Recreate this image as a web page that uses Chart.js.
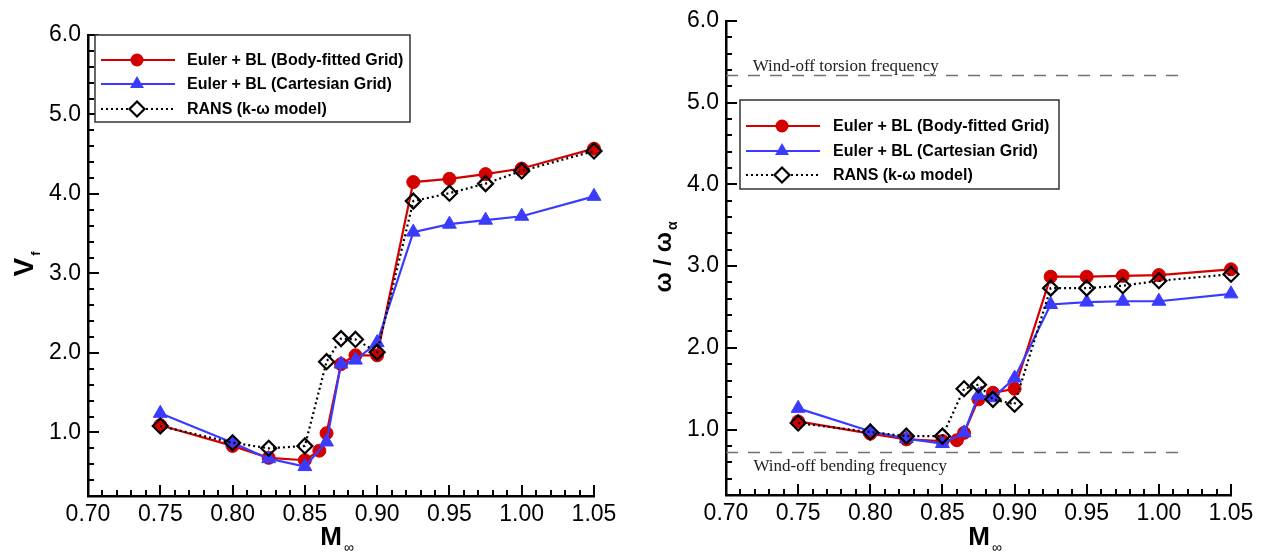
<!DOCTYPE html>
<html>
<head>
<meta charset="utf-8">
<script src="https://cdn.jsdelivr.net/npm/chart.js@4.4.0/dist/chart.umd.min.js"></script>
<style>
  html, body { margin: 0; padding: 0; background: #fff; }
  .panel { position: absolute; top: 0; height: 554px; }
  #leftWrap { left: 0; width: 630px; }
  #rightWrap { left: 630px; width: 632px; }
</style>
</head>
<body>
<div class="panel" id="leftWrap"><canvas id="flutterSpeed"></canvas></div>
<div class="panel" id="rightWrap"><canvas id="flutterFreq"></canvas></div>
<script>
// Mach numbers (shared x values)
const machNumbers = [0.75, 0.80, 0.825, 0.85, 0.86, 0.865, 0.875, 0.885, 0.90, 0.925, 0.95, 0.975, 1.00, 1.05];

// Left panel: flutter speed index V_f
const vfBodyFitted = [1.09, 0.83, 0.68, 0.65, 0.77, 0.99, 1.86, 1.97, 1.97, 4.15, 4.19, 4.25, 4.32, 4.57];
const vfCartesian  = [1.24, 0.87, 0.67, 0.57, null, 0.88, 1.86, 1.91, 2.13, 3.52, 3.62, 3.67, 3.72, 3.97];
const vfRans       = [1.08, 0.87, 0.80, 0.83, null, 1.89, 2.18, 2.17, 2.01, 3.91, 4.01, 4.13, 4.29, 4.54];

// Right panel: flutter frequency ratio omega / omega_alpha
const freqBodyFitted = [1.10, 0.95, 0.88, 0.86, 0.87, 0.96, 1.37, 1.45, 1.50, 2.87, 2.87, 2.88, 2.89, 2.96];
const freqCartesian  = [1.26, 0.98, 0.89, 0.83, null, 0.96, 1.42, 1.39, 1.63, 2.53, 2.56, 2.57, 2.57, 2.66];
const freqRans       = [1.08, 0.97, 0.92, 0.92, null, 1.50, 1.55, 1.37, 1.31, 2.73, 2.73, 2.76, 2.82, 2.90];

// Wind-off reference frequencies
const torsionFreq = 5.33;
const bendingFreq = 0.72;
const refLineMach = [0.70, 1.017];

// Series names
const seriesNames = ['Euler + BL (Body-fitted Grid)', 'Euler + BL (Cartesian Grid)', 'RANS (k-\u03c9 model)'];

// Axis ticks
const xTickValues = [0.70, 0.75, 0.80, 0.85, 0.90, 0.95, 1.00, 1.05];
const xTickLabels = ['0.70', '0.75', '0.80', '0.85', '0.90', '0.95', '1.00', '1.05'];
const yTickValues = [1, 2, 3, 4, 5, 6];
const yTickLabels = ['1.0', '2.0', '3.0', '4.0', '5.0', '6.0'];

const RED = '#d40000';
const BLUE = '#3b3bff';
const SANS = "'Liberation Sans', Arial, sans-serif";
const SERIF = "'Liberation Serif', 'Times New Roman', serif";

function toPoints(xs, ys) {
    const pts = [];
    xs.forEach((m, i) => { if (ys[i] !== null) pts.push({ x: m, y: ys[i] }); });
    return pts;
}

function seriesDatasets(body, cart, rans) {
    return [
        { label: seriesNames[0], data: toPoints(machNumbers, body), borderColor: RED, backgroundColor: RED,
          borderWidth: 2.2, pointStyle: 'circle', pointRadius: 6.5, pointBorderWidth: 1, order: 3, clip: false },
        { label: seriesNames[1], data: toPoints(machNumbers, cart), borderColor: BLUE, backgroundColor: BLUE,
          borderWidth: 2.2, pointStyle: 'triangle', pointRadius: 8, pointBorderWidth: 1, order: 2, clip: false },
        { label: seriesNames[2], data: toPoints(machNumbers, rans), borderColor: '#000', backgroundColor: 'rgba(0,0,0,0)',
          borderWidth: 2.2, borderDash: [2, 3], pointStyle: 'rectRot', pointRadius: 7.5, pointBorderWidth: 2.2,
          order: 1, clip: false }
    ];
}

function refDataset(value) {
    return { label: 'ref', data: toPoints(refLineMach, refLineMach.map(() => value)), borderColor: '#707070',
             borderWidth: 1.5, borderDash: [12, 10], pointRadius: 0, order: 5 };
}

function makeScales(yWidth, xHeight) {
    return {
        x: {
            type: 'linear', min: 0.70, max: 1.05,
            grid: { display: false, drawTicks: false },
            border: { display: true, color: '#000', width: 2.5 },
            afterBuildTicks: s => { s.ticks = xTickValues.map(v => ({ value: v })); },
            afterFit: s => { s.height = xHeight; },
            ticks: { color: '#000', padding: 5, maxRotation: 0, autoSkip: false,
                     font: { family: SANS, size: 23 }, callback: (v, i) => xTickLabels[i] }
        },
        y: {
            min: 0.2, max: 6.0,
            grid: { display: false, drawTicks: false },
            border: { display: true, color: '#000', width: 2.5 },
            afterBuildTicks: s => { s.ticks = yTickValues.map(v => ({ value: v })); },
            afterFit: s => { s.width = yWidth; },
            ticks: { color: '#000', padding: 7, font: { family: SANS, size: 23 },
                     callback: (v, i) => yTickLabels[i] }
        }
    };
}

// inward major / minor tick marks
const innerTicks = {
    id: 'innerTicks',
    beforeDatasetsDraw(chart) {
        const { ctx, chartArea: a, scales: { x, y } } = chart;
        ctx.save();
        ctx.strokeStyle = '#000';
        ctx.lineWidth = 2;
        ctx.beginPath();
        for (let k = 70; k <= 105; k++) {
            const px = Math.round(x.getPixelForValue(k / 100));
            const len = k % 5 === 0 ? 11 : 6;
            ctx.moveTo(px, a.bottom);
            ctx.lineTo(px, a.bottom - len);
        }
        for (let k = 1; k <= 30; k++) {
            const py = Math.round(y.getPixelForValue(k * 0.2));
            const len = k % 5 === 0 ? 11 : 6;
            ctx.moveTo(a.left, py);
            ctx.lineTo(a.left + len, py);
        }
        ctx.stroke();
        ctx.restore();
    }
};

function drawMarker(ctx, style, x, y, r) {
    ctx.beginPath();
    if (style === 'circle') {
        ctx.arc(x, y, r, 0, Math.PI * 2);
    } else if (style === 'triangle') {
        for (let i = 0; i < 3; i++) {
            const ang = i * 2 * Math.PI / 3;
            const px = x + Math.sin(ang) * r, py = y - Math.cos(ang) * r;
            if (i === 0) ctx.moveTo(px, py); else ctx.lineTo(px, py);
        }
    } else {
        ctx.moveTo(x, y - r); ctx.lineTo(x + r, y); ctx.lineTo(x, y + r); ctx.lineTo(x - r, y);
    }
    ctx.closePath();
}

// boxed legend inside the plot
const frameLegend = {
    id: 'frameLegend',
    afterDraw(chart, args, opts) {
        const ctx = chart.ctx;
        const [bx, by, bw, bh] = opts.box;
        ctx.save();
        ctx.fillStyle = '#fff';
        ctx.fillRect(bx, by, bw, bh);
        ctx.strokeStyle = '#333';
        ctx.lineWidth = 1.5;
        ctx.strokeRect(bx, by, bw, bh);
        chart.data.datasets.slice(0, 3).forEach((ds, i) => {
            const ry = opts.rows[i];
            ctx.strokeStyle = ds.borderColor;
            ctx.lineWidth = 2.2;
            ctx.setLineDash(ds.borderDash || []);
            ctx.beginPath();
            ctx.moveTo(opts.lineX[0], ry);
            ctx.lineTo(opts.lineX[1], ry);
            ctx.stroke();
            ctx.setLineDash([]);
            drawMarker(ctx, ds.pointStyle, opts.markerX, ry, ds.pointRadius);
            if (ds.pointStyle === 'rectRot') {
                ctx.fillStyle = '#fff';
                ctx.fill();
                ctx.lineWidth = 2.2;
                ctx.strokeStyle = '#000';
                ctx.stroke();
            } else {
                ctx.fillStyle = ds.borderColor;
                ctx.fill();
            }
            ctx.fillStyle = '#000';
            ctx.font = 'bold 16px ' + SANS;
            ctx.textBaseline = 'middle';
            ctx.textAlign = 'left';
            ctx.fillText(ds.label, opts.textX, ry + 1);
        });
        ctx.restore();
    }
};

// axis titles with subscripts
const axisTitles = {
    id: 'axisTitles',
    afterDraw(chart, args, opts) {
        const ctx = chart.ctx;
        ctx.save();
        ctx.fillStyle = '#000';
        ctx.textBaseline = 'alphabetic';
        ctx.textAlign = 'left';
        // x title
        const xt = opts.x;
        ctx.font = 'bold ' + xt.size + 'px ' + SANS;
        const wm = ctx.measureText(xt.main).width;
        const sx = xt.cx - wm / 2;
        ctx.fillText(xt.main, sx, xt.baseline);
        ctx.font = xt.subSize + 'px ' + SANS;
        ctx.fillText(xt.sub, sx + wm + 2, xt.baseline + xt.subShift);
        // y title (rotated)
        const yt = opts.y;
        ctx.translate(yt.baselineX, yt.cy);
        ctx.rotate(-Math.PI / 2);
        ctx.font = 'bold ' + yt.size + 'px ' + SANS;
        const w1 = ctx.measureText(yt.main).width;
        ctx.font = 'bold ' + yt.subSize + 'px ' + SANS;
        const w2 = ctx.measureText(yt.sub).width;
        const start = -(w1 + w2 + 2) / 2;
        ctx.font = 'bold ' + yt.size + 'px ' + SANS;
        ctx.fillText(yt.main, start, 0);
        ctx.font = 'bold ' + yt.subSize + 'px ' + SANS;
        ctx.fillText(yt.sub, start + w1 + 2, yt.subShift);
        ctx.restore();
    }
};

// labels for wind-off frequency lines
const refLabels = {
    id: 'refLabels',
    afterDatasetsDraw(chart, args, opts) {
        if (!opts.items) return;
        const { ctx, scales: { x, y } } = chart;
        ctx.save();
        ctx.fillStyle = '#222';
        ctx.font = '17px ' + SERIF;
        ctx.textBaseline = 'alphabetic';
        opts.items.forEach(it => {
            ctx.fillText(it.text, x.getPixelForValue(it.mach), y.getPixelForValue(it.value) + it.dy);
        });
        ctx.restore();
    }
};

document.addEventListener('DOMContentLoaded', function() {
    new Chart(document.getElementById('flutterSpeed').getContext('2d'), {
        type: 'line',
        data: { datasets: seriesDatasets(vfBodyFitted, vfCartesian, vfRans) },
        options: {
            responsive: true,
            maintainAspectRatio: false,
            animation: false,
            layout: { padding: { top: 35, right: 36, left: 0, bottom: 0 } },
            scales: makeScales(88, 58),
            plugins: {
                legend: { display: false },
                tooltip: { enabled: false },
                frameLegend: { box: [95, 35, 315, 87], rows: [60, 84, 109], lineX: [101, 175], markerX: 137, textX: 187 },
                axisTitles: {
                    x: { main: 'M', sub: '\u221e', size: 26, subSize: 14, cx: 331, baseline: 545, subShift: 7 },
                    y: { main: 'V', sub: 'f', size: 28, subSize: 13, baselineX: 33, cy: 264, subShift: 7 }
                }
            }
        },
        plugins: [innerTicks, frameLegend, axisTitles]
    });

    const freqSets = seriesDatasets(freqBodyFitted, freqCartesian, freqRans);
    freqSets.push(refDataset(torsionFreq), refDataset(bendingFreq));

    new Chart(document.getElementById('flutterFreq').getContext('2d'), {
        type: 'line',
        data: { datasets: freqSets },
        options: {
            responsive: true,
            maintainAspectRatio: false,
            animation: false,
            layout: { padding: { top: 19, right: 31, left: 0, bottom: 0 } },
            scales: makeScales(96, 59),
            plugins: {
                legend: { display: false },
                tooltip: { enabled: false },
                frameLegend: { box: [110, 100, 319, 89], rows: [126, 151, 175], lineX: [116, 190], markerX: 152, textX: 203 },
                axisTitles: {
                    x: { main: 'M', sub: '\u221e', size: 26, subSize: 14, cx: 349, baseline: 545, subShift: 7 },
                    y: { main: '\u03c9 / \u03c9', sub: '\u03b1', size: 24, subSize: 14, baselineX: 41, cy: 257, subShift: 6 }
                },
                refLabels: {
                    items: [
                        { text: 'Wind-off torsion frequency', mach: 0.7185, value: torsionFreq, dy: -5 },
                        { text: 'Wind-off bending frequency', mach: 0.719, value: bendingFreq, dy: 19 }
                    ]
                }
            }
        },
        plugins: [innerTicks, frameLegend, axisTitles, refLabels]
    });
});
</script>
</body>
</html>
